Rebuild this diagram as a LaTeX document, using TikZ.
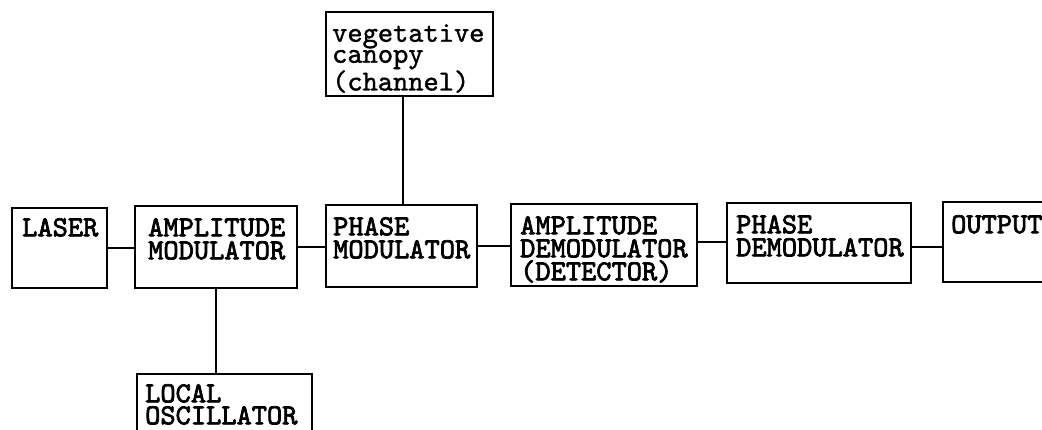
\documentclass[tikz,border=0pt]{standalone}
\usepackage{fontspec}
\newfontfamily\typew{lmmono10-regular.otf}[FakeBold=2.5]
\newfontfamily\typel{lmmono10-regular.otf}[FakeBold=1.3]
\usetikzlibrary{calc}
\tikzset{
  blk/.style={draw, line width=1.6pt, rectangle, inner sep=0pt},
  uptxt/.style={inner sep=0pt, anchor=north west, align=left,
    font=\typew\fontsize{29}{23}\selectfont},
  lowtxt/.style={inner sep=0pt, anchor=north west, align=left,
    font=\typel\fontsize{29}{21}\selectfont},
  wire/.style={line width=1.6pt}
}
\newcommand{\blkat}[5]{% name x1 y1 x2 y2
  \node[blk, minimum width={(#4-#2)*1pt}, minimum height={(#5-#3)*1pt}] (#1) at ({(#2+#4)/2},{(#3+#5)/2}) {};}
\begin{document}
\begin{tikzpicture}[x=1pt,y=-1pt]
\clip (0,0) rectangle (1042,429);
\useasboundingbox (0,0) rectangle (1042,429);
\blkat{las}{12}{208}{107}{288}
\blkat{am}{135}{206}{297}{288}
\blkat{pm}{326}{205}{477}{287}
\blkat{veg}{326}{12}{493}{96}
\blkat{ad}{511}{204}{697}{286}
\blkat{pd}{727}{203}{911}{283}
\blkat{out}{943}{202}{1070}{282}
\blkat{lo}{137}{374}{312}{460}
\node[uptxt] (lasT) at (22,218) {LASER};
\node[uptxt] (amT) at (148,218) {AMPLITUDE\\MODULATOR};
\node[uptxt] (pmT) at (333,217) {PHASE\\MODULATOR};
\node[lowtxt] (vegT) at (332,24) {vegetative\\canopy\\(channel)};
\node[uptxt] (adT) at (520,216) {AMPLITUDE\\DEMODULATOR\\(DETECTOR)};
\node[uptxt] (pdT) at (736,215) {PHASE\\DEMODULATOR};
\node[uptxt] (outT) at (951,215) {OUTPUT};
\node[uptxt, font=\typew\fontsize{29}{22}\selectfont] (loT) at (145,384) {LOCAL\\OSCILLATOR};
\draw[wire] (las.east) -- (las.east -| am.west);
\draw[wire] (am.east) -- (am.east -| pm.west);
\draw[wire] (pm.east) -- (pm.east -| ad.west);
\draw[wire] ([yshift=3pt]ad.east) -- ([yshift=3pt]ad.east -| pd.west);
\draw[wire] ([yshift=-4pt]pd.east) -- ([yshift=-4pt]pd.east -| out.west);
\draw[wire] ([xshift=1.5pt]pm.north) -- ([xshift=1.5pt]pm.north |- veg.south);
\draw[wire] (am.south) -- (am.south |- lo.north);
\end{tikzpicture}
\end{document}
